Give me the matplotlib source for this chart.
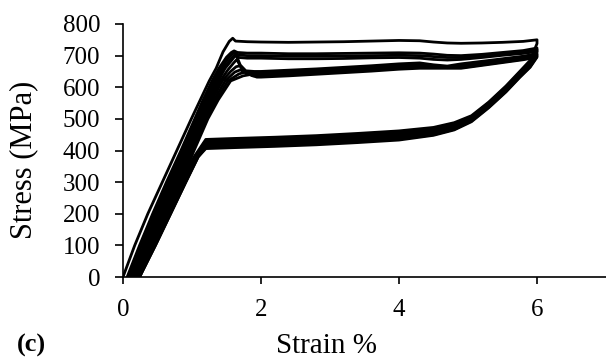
import matplotlib
matplotlib.use("Agg")
import matplotlib.pyplot as plt

plt.rcParams['font.family'] = ['Liberation Serif', 'DejaVu Serif']

# loading branch: strain at each stress level of the elastic rise
rise_stress = [0, 100, 200, 300, 400, 500, 560, 620]
rise_strain = [
    [0.00, 0.17, 0.36, 0.57, 0.78, 0.99, 1.12, 1.25],
    [0.06, 0.24, 0.43, 0.63, 0.84, 1.04, 1.16, 1.29],
    [0.09, 0.27, 0.46, 0.66, 0.87, 1.07, 1.19, 1.32],
    [0.12, 0.30, 0.49, 0.69, 0.90, 1.10, 1.22, 1.35],
    [0.14, 0.32, 0.52, 0.72, 0.92, 1.12, 1.24, 1.38],
    [0.16, 0.35, 0.55, 0.75, 0.95, 1.14, 1.27, 1.41],
    [0.18, 0.37, 0.57, 0.77, 0.97, 1.16, 1.29, 1.44],
    [0.20, 0.40, 0.60, 0.80, 0.99, 1.19, 1.32, 1.48],
    [0.22, 0.42, 0.62, 0.82, 1.01, 1.21, 1.35, 1.52],
    [0.24, 0.44, 0.64, 0.84, 1.03, 1.23, 1.38, 1.56],
]

# yield peak of each cycle
cap_strain = [
    [1.35, 1.45, 1.54, 1.59, 1.63, 1.80],
    [1.39, 1.50, 1.57, 1.61, 1.66, 1.80],
    [1.42, 1.52, 1.59, 1.62, 1.67, 1.80],
    [1.45, 1.55, 1.61, 1.63, 1.68, 1.80],
    [1.48, 1.57, 1.62, 1.64, 1.70, 1.78, 1.90],
    [1.52, 1.60, 1.65, 1.71, 1.80, 1.90],
    [1.56, 1.64, 1.70, 1.77, 1.86],
    [1.62, 1.70, 1.78, 1.88],
    [1.68, 1.77, 1.88],
    [1.74, 1.84, 1.94],
]
cap_stress = [
    [660, 712, 745, 755, 746, 744],
    [660, 695, 710, 715, 710, 708],
    [660, 690, 706, 710, 702, 700],
    [660, 686, 700, 705, 694, 692],
    [660, 684, 698, 702, 670, 652, 650],
    [655, 676, 688, 662, 646, 645],
    [650, 665, 668, 650, 641],
    [648, 655, 645, 638],
    [642, 648, 636],
    [636, 640, 632],
]

# upper plateau
plateau_strain = [2.0, 2.4, 2.8, 3.2, 3.6, 4.0, 4.3, 4.5, 4.7, 4.9, 5.2, 5.5, 5.8, 6.0]
plateau_stress = [
    [743, 742, 743, 744, 746, 748, 747, 743, 740, 739, 740, 742, 745, 750],
    [708, 706, 706, 707, 708, 709, 708, 705, 701, 700, 704, 710, 716, 724],
    [700, 698, 698, 699, 700, 701, 700, 697, 694, 694, 699, 706, 712, 718],
    [692, 690, 690, 691, 693, 694, 692, 688, 686, 688, 694, 701, 707, 713],
    [650, 654, 658, 663, 668, 674, 677, 671, 667, 674, 682, 690, 698, 706],
    [646, 650, 654, 659, 664, 670, 673, 667, 662, 670, 679, 688, 696, 703],
    [641, 645, 650, 655, 660, 666, 669, 667, 662, 666, 676, 685, 693, 701],
    [638, 642, 647, 652, 657, 663, 666, 665, 663, 664, 673, 682, 691, 699],
    [635, 639, 644, 649, 654, 660, 663, 663, 662, 662, 671, 680, 689, 697],
    [632, 636, 641, 646, 651, 657, 660, 660, 660, 660, 669, 678, 687, 695],
]

# unloading: reverse transformation plateau
unload_strain = [6.0, 5.9, 5.75, 5.55, 5.3, 5.05, 4.8, 4.5, 4.0, 3.4, 2.8, 2.2, 1.6, 1.2]
unload_stress = [
    [738, 685, 650, 604, 553, 510, 488, 473, 462, 454, 447, 442, 438, 435],
    [718, 680, 647, 601, 551, 507, 485, 470, 458, 450, 443, 438, 434, 431],
    [714, 678, 645, 599, 549, 505, 482, 467, 454, 446, 439, 434, 430, 427],
    [710, 676, 643, 597, 547, 503, 479, 464, 451, 443, 436, 431, 427, 424],
    [705, 673, 641, 595, 545, 501, 476, 461, 448, 440, 433, 428, 424, 421],
    [703, 671, 639, 593, 543, 499, 473, 458, 445, 437, 430, 425, 421, 418],
    [701, 669, 637, 591, 541, 497, 471, 455, 442, 434, 427, 422, 418, 415],
    [699, 667, 635, 589, 539, 495, 469, 452, 439, 431, 424, 419, 415, 412],
    [697, 665, 633, 587, 537, 493, 467, 450, 436, 428, 421, 416, 412, 409],
    [695, 663, 631, 585, 535, 491, 465, 448, 433, 425, 418, 413, 409, 406],
]

# final elastic unloading down to zero stress
drop_stress = [380, 300, 200, 100, 0]
drop_strain = [
    [1.03, 0.83, 0.61, 0.39, 0.17],
    [1.04, 0.84, 0.62, 0.40, 0.18],
    [1.05, 0.85, 0.63, 0.41, 0.19],
    [1.05, 0.86, 0.64, 0.42, 0.20],
    [1.06, 0.87, 0.65, 0.43, 0.21],
    [1.07, 0.88, 0.66, 0.44, 0.22],
    [1.07, 0.89, 0.67, 0.45, 0.22],
    [1.08, 0.90, 0.68, 0.46, 0.23],
    [1.09, 0.91, 0.69, 0.47, 0.24],
    [1.09, 0.91, 0.69, 0.47, 0.24],
]

x_ticks = [0, 2, 4, 6]
y_ticks = [0, 100, 200, 300, 400, 500, 600, 700, 800]


def main():
    fig = plt.figure(figsize=(6.06, 3.58), dpi=100)
    ax = fig.add_axes([123 / 606, 1 - 277 / 358, 483 / 606, 253 / 358])

    for i in range(len(rise_strain)):
        x = rise_strain[i] + cap_strain[i] + plateau_strain + unload_strain + drop_strain[i]
        y = rise_stress + cap_stress[i] + plateau_stress[i] + unload_stress[i] + drop_stress
        ax.plot(x, y, color='black', lw=2.0, solid_joinstyle='round', solid_capstyle='round')

    ax.set_xlim(0, 7)
    ax.set_ylim(0, 800)
    ax.set_xticks(x_ticks)
    ax.set_yticks(y_ticks)
    ax.spines['top'].set_visible(False)
    ax.spines['right'].set_visible(False)
    ax.spines['left'].set_linewidth(1.2)
    ax.spines['bottom'].set_linewidth(1.2)
    ax.tick_params(axis='y', direction='out', length=5.8, width=1.2, pad=10.5, labelsize=18)
    ax.tick_params(axis='x', direction='out', length=5, width=1.2, pad=11, labelsize=18)

    fig.text(24 / 606, 1 - 160 / 358, 'Stress (MPa)', rotation=90, ha='center', va='center', fontsize=22)
    fig.text(327 / 606, 1 - 353 / 358, 'Strain %', ha='center', va='baseline', fontsize=21)
    fig.text(17 / 606, 1 - 352 / 358, '(c)', ha='left', va='baseline', fontsize=19, fontweight='bold')

    fig.savefig('out.png', dpi=100)


if __name__ == "__main__":
    main()
